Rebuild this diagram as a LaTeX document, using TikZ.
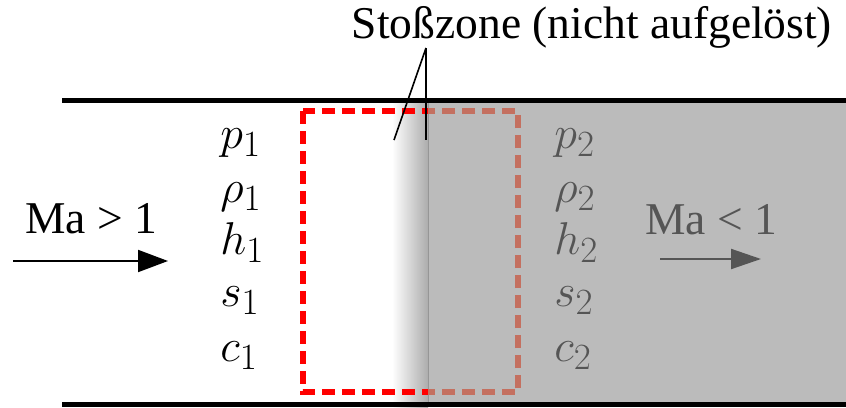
\RequirePackage{fix-cm}
\documentclass[tikz,border=0pt]{standalone}
\usepackage{fontspec}
\setmainfont{Liberation Serif}
\DeclareMathSizes{23}{23}{18.5}{14}
\usetikzlibrary{arrows.meta}
\definecolor{bgray}{RGB}{187,187,187}
\definecolor{dgray}{RGB}{85,85,85}
\definecolor{salmon}{RGB}{196,112,96}
\definecolor{gradend}{RGB}{172,172,172}
\definecolor{edgegray}{RGB}{150,150,150}
\tikzset{
  txt/.style={inner sep=0pt, font=\fontsize{22.75}{27}\selectfont},
  var/.style={inner sep=0pt, anchor=base west, font=\fontsize{23}{27}\selectfont},
  wall/.style={line width=2.5pt},
  zone/.style={line width=3pt, dash pattern=on 6.5pt off 3.5pt},
  flow/.style={line width=1pt, -{Triangle[length=15pt,width=11pt]}},
  shockline/.style={line width=0.8pt}
}
\begin{document}
\begin{tikzpicture}[x=0.5pt,y=-0.5pt]
\useasboundingbox (0,0) rectangle (846,407);
% gradient and downstream region
\shade[left color=white, right color=gradend] (392,102) rectangle (428,407);
\fill[bgray] (428,102) rectangle (846,407);
\draw[edgegray, line width=0.4pt] (428,102) -- (428,407);
% dashed zone
\begin{scope}
\clip (0,0) rectangle (428,407);
\draw[zone, red] (303,111) rectangle (518,392);
\end{scope}
\begin{scope}
\clip (428,0) rectangle (846,407);
\draw[zone, salmon] (303,111) rectangle (518,392);
\end{scope}
% walls
\coordinate (tl) at (62,100);
\coordinate (tr) at (846,100);
\coordinate (bl) at (62,404);
\coordinate (br) at (846,404);
\draw[wall] (tl) -- (tr);
\draw[wall] (bl) -- (br);
% shock label
\node[txt, anchor=base] (shocklabel) at (592,39) {Stoßzone (nicht aufgelöst)};
\coordinate (apex) at (426,48);
\coordinate (vend) at (426,140);
\coordinate (send) at (394,140);
\draw[shockline] (apex) -- (vend);
\draw[shockline] (apex) -- (send);
% upstream
\node[var] (p1) at (220,148) {$p_1$};
\node[var] (r1) at (220,202) {$\rho_1$};
\node[var] (h1) at (220,254) {$h_1$};
\node[var] (s1) at (220,306) {$s_1$};
\node[var] (c1) at (220,361) {$c_1$};
\node[txt, anchor=base] (ma1) at (91,233) {Ma > 1};
\coordinate (a1s) at (13,261);
\coordinate (a1e) at (168,261);
\draw[flow] (a1s) -- (a1e);
% downstream
\begin{scope}[dgray]
\node[var] (p2) at (554,148) {$p_2$};
\node[var] (r2) at (554,202) {$\rho_2$};
\node[var] (h2) at (554,254) {$h_2$};
\node[var] (s2) at (554,306) {$s_2$};
\node[var] (c2) at (554,361) {$c_2$};
\node[txt, anchor=base, text=dgray] (ma2) at (711,234) {Ma < 1};
\coordinate (a2s) at (660,259);
\coordinate (a2e) at (761,259);
\draw[flow, dgray, -{Triangle[length=15pt,width=10pt]}] (a2s) -- (a2e);
\end{scope}
\end{tikzpicture}
\end{document}
